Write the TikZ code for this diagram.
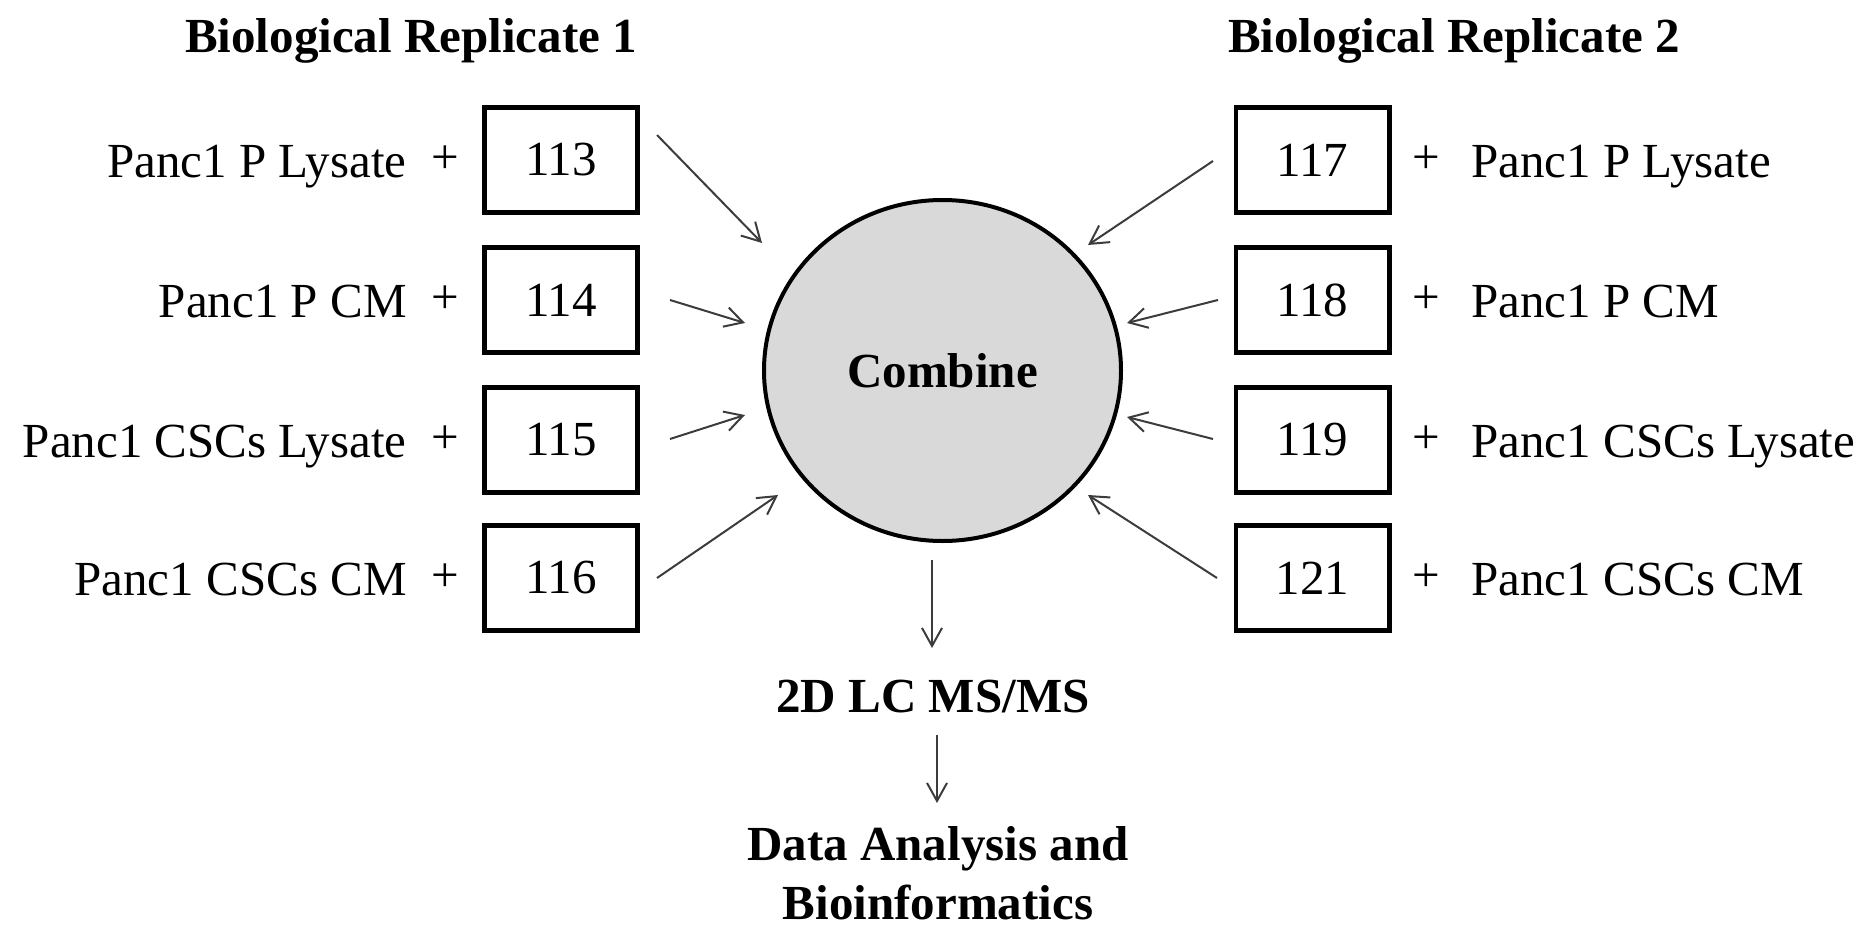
\documentclass[tikz,border=0pt]{standalone}
\usepackage{fontspec}
\setmainfont{Liberation Serif}
\usetikzlibrary{arrows.meta,shapes.geometric}
\definecolor{fillgray}{RGB}{217,217,217}
\definecolor{arrgray}{RGB}{60,60,60}
\begin{document}
\begin{tikzpicture}[x=0.5pt,y=-0.5pt,
  txt/.style={inner sep=0pt, font=\fontsize{24.5}{29}\selectfont},
  btxt/.style={inner sep=0pt, font=\fontsize{24.5}{29}\selectfont\bfseries},
  numbox/.style={txt, draw=black, line width=2.3pt, minimum width=76.7pt, minimum height=52.7pt},
  hub/.style={btxt, ellipse, draw=black, fill=fillgray, line width=2pt, minimum width=178.5pt, minimum height=170.5pt},
  arr/.style={draw=arrgray, line width=1pt, -{Straight Barb[length=9pt,width=10pt]}}
]
\useasboundingbox (0,0) rectangle (1864,926);

% titles
\node[btxt, anchor=base] (t1) at (411,53) {Biological Replicate 1};
\node[btxt, anchor=base] (t2) at (1454,53) {Biological Replicate 2};

% left column
\node[numbox] (b113) at (561,160) {113};
\node[numbox] (b114) at (561,300) {114};
\node[numbox] (b115) at (561,440) {115};
\node[numbox] (b116) at (561,578) {116};
\node[txt] (p113) at (445,160) {+};
\node[txt] (p114) at (445,300) {+};
\node[txt] (p115) at (445,440) {+};
\node[txt] (p116) at (445,578) {+};
\node[txt, anchor=base east] (l113) at (407,177) {Panc1 P Lysate};
\node[txt, anchor=base east] (l114) at (407,317) {Panc1 P CM};
\node[txt, anchor=base east] (l115) at (407,457) {Panc1 CSCs Lysate};
\node[txt, anchor=base east] (l116) at (407,595) {Panc1 CSCs CM};

% right column
\node[numbox] (b117) at (1312.5,160) {117};
\node[numbox] (b118) at (1312.5,300) {118};
\node[numbox] (b119) at (1312.5,440) {119};
\node[numbox] (b121) at (1312.5,578) {121};
\node[txt] (p117) at (1426,160) {+};
\node[txt] (p118) at (1426,300) {+};
\node[txt] (p119) at (1426,440) {+};
\node[txt] (p121) at (1426,578) {+};
\node[txt, anchor=base west] (l117) at (1471,177) {Panc1 P Lysate};
\node[txt, anchor=base west] (l118) at (1471,317) {Panc1 P CM};
\node[txt, anchor=base west] (l119) at (1471,457) {Panc1 CSCs Lysate};
\node[txt, anchor=base west] (l121) at (1471,595) {Panc1 CSCs CM};

% hub
\node[hub] (comb) at (942.5,370.5) {Combine};

% downstream
\node[btxt, anchor=base] (ms) at (933,712) {2D LC MS/MS};
\node[btxt, anchor=base] (da1) at (938,860) {Data Analysis and};
\node[btxt, anchor=base] (da2) at (938,919) {Bioinformatics};

% arrow end points
\coordinate (s113) at (657,135);  \coordinate (e113) at (762,243);
\coordinate (s114) at (670,300);  \coordinate (e114) at (745,323);
\coordinate (s115) at (670,439);  \coordinate (e115) at (745,415);
\coordinate (s116) at (657,578);  \coordinate (e116) at (778,495);
\coordinate (s117) at (1213,161); \coordinate (e117) at (1088,245);
\coordinate (s118) at (1218,300); \coordinate (e118) at (1127,323);
\coordinate (s119) at (1213,439); \coordinate (e119) at (1127,417);
\coordinate (s121) at (1217,578); \coordinate (e121) at (1088,495);
\coordinate (d1s) at (932,560); \coordinate (d1e) at (932,648);
\coordinate (d2s) at (937,735); \coordinate (d2e) at (937,803);

\draw[arr] (s113) -- (e113);
\draw[arr] (s114) -- (e114);
\draw[arr] (s115) -- (e115);
\draw[arr] (s116) -- (e116);
\draw[arr] (s117) -- (e117);
\draw[arr] (s118) -- (e118);
\draw[arr] (s119) -- (e119);
\draw[arr] (s121) -- (e121);
\draw[arr] (d1s) -- (d1e);
\draw[arr] (d2s) -- (d2e);
\end{tikzpicture}
\end{document}
